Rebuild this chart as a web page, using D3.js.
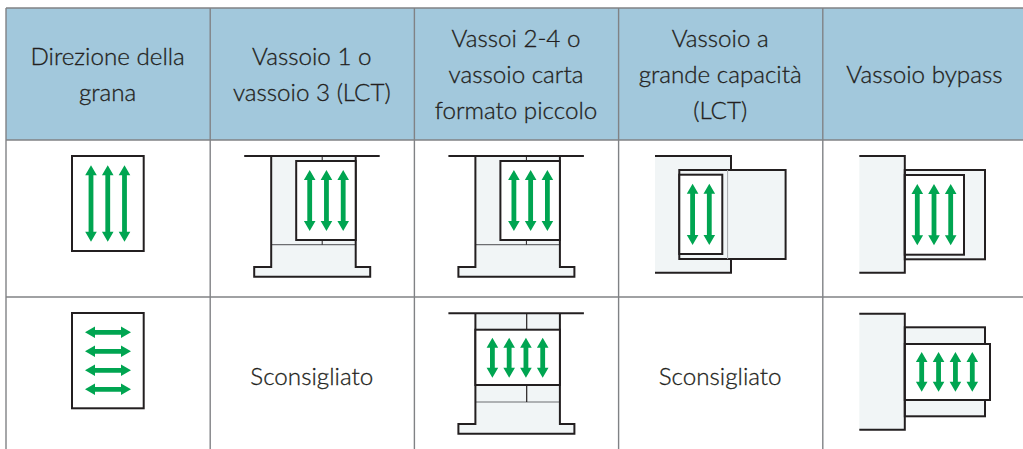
<!DOCTYPE html>
<html>
<head>
<meta charset="utf-8">
<style>
  html, body { margin: 0; padding: 0; background: #fff; overflow: hidden; }
  text { font-family: Lato, sans-serif; font-size: 24.2px; font-weight: 300; fill: #231f20; stroke: #231f20; stroke-width: 0.3px; text-anchor: middle; }
</style>
<script src="https://cdn.jsdelivr.net/npm/d3@7"></script>
</head>
<body>
<div id="table"></div>
<script>
// grain direction table

var headers = [
    ["Direzione della", "grana"],
    ["Vassoio 1 o", "vassoio 3 (LCT)"],
    ["Vassoi 2-4 o", "vassoio carta", "formato piccolo"],
    ["Vassoio a", "grande capacità", "(LCT)"],
    ["Vassoio bypass"]
];

// what goes in each cell of the two rows
var longGrainCells = ["sheet", "cassette", "cassette", "lct", "bypass"];
var shortGrainCells = ["sheetWide", "Sconsigliato", "cassetteWide", "Sconsigliato", "bypassWide"];

var rowCells = [longGrainCells, shortGrainCells];

var width = 1023,
    height = 449,
    ink = "#231f20",
    rule = "#808285",
    tint = "#f1f5f6",
    green = "#00a551";

var svg = d3.select("#table").append("svg")
    .attr("width", width)
    .attr("height", height)
    .style("display", "block");

// Column and row edges
var x = d3.scaleLinear().domain([0, 5]).range([6, 1027]);
var y = d3.scaleOrdinal().domain([0, 1, 2, 3]).range([8, 140, 297, 460]);

svg.append("rect")
    .attr("x", x(0))
    .attr("y", y(0))
    .attr("width", x(5) - x(0))
    .attr("height", y(1) - y(0))
    .attr("fill", "#a2c8dc");

svg.selectAll("line.col")
    .data(d3.range(0, 6))
    .enter().append("line")
    .attr("class", "col")
    .attr("x1", function(d) { return x(d); })
    .attr("x2", function(d) { return x(d); })
    .attr("y1", y(0))
    .attr("y2", y(3))
    .attr("stroke", rule)
    .attr("stroke-width", 1.4);

svg.selectAll("line.row")
    .data([0, 1, 2])
    .enter().append("line")
    .attr("class", "row")
    .attr("x1", x(0))
    .attr("x2", x(5))
    .attr("y1", function(d) { return y(d); })
    .attr("y2", function(d) { return y(d); })
    .attr("stroke", rule)
    .attr("stroke-width", 1.6);

// Header text
var baseline = {1: [83], 2: [65, 101], 3: [47, 83, 119]};

headers.forEach(function(lines, c) {
    svg.selectAll("text.h" + c)
        .data(lines)
        .enter().append("text")
        .attr("class", "h" + c)
        .attr("x", (x(c) + x(c + 1)) / 2 - 0.5)
        .attr("y", function(d, i) { return baseline[lines.length][i]; })
        .text(function(d) { return d; });
});

// Helpers for the little tray drawings
function box(g, x0, y0, x1, y1, fill, stroke) {
    g.append("rect")
        .attr("x", x0)
        .attr("y", y0)
        .attr("width", x1 - x0)
        .attr("height", y1 - y0)
        .attr("fill", fill)
        .attr("stroke", stroke || "none")
        .attr("stroke-width", 2);
}

function polyline(g, points, color, w) {
    g.append("path")
        .attr("d", d3.line()(points))
        .attr("fill", "none")
        .attr("stroke", color || ink)
        .attr("stroke-width", w || 2);
}

function arrow(g, x0, y0, x1, y1) {
    var horizontal = y0 === y1,
        len = horizontal ? x1 - x0 : y1 - y0,
        s = 2.4, h = 5.8, t = 10;
    var shape = [[0, 0], [h, t], [s, t], [s, len - t], [h, len - t], [0, len],
        [-h, len - t], [-s, len - t], [-s, t], [-h, t]];
    g.append("polygon")
        .attr("fill", green)
        .attr("points", shape.map(function(p) {
            return horizontal ? [x0 + p[1], y0 + p[0]].join(",") : [x0 + p[0], y0 + p[1]].join(",");
        }).join(" "));
}

// n upright arrows spread between x0 and x1
function upright(g, n, x0, x1, y0, y1) {
    var pos = d3.scaleLinear().domain([0, n - 1]).range([x0, x1]);
    d3.range(n).forEach(function(i) { arrow(g, pos(i), y0, pos(i), y1); });
}

function cassetteBase(g, top, lineY) {
    box(g, 61, top, 145.5, 132, tint);
    box(g, 44, 127, 160, 136.7, tint);
    polyline(g, [[61, lineY], [145.5, lineY]], "#6d6e71", 1.2);
    polyline(g, [[61, top], [61, 127], [44, 127], [44, 136.7], [160, 136.7], [160, 127], [145.5, 127], [145.5, top]]);
    polyline(g, [[34, top], [169.5, top]]);
}

var drawings = {
    sheet: function(g) {
        box(g, 66, 16, 137.7, 111, "#fff", ink);
        upright(g, 3, 85, 118.5, 25.3, 101.7);
    },
    sheetWide: function(g) {
        box(g, 66, 16, 137.7, 111.3, "#fff", ink);
        var pos = d3.scaleLinear().domain([0, 3]).range([35.3, 92.3]);
        d3.range(4).forEach(function(i) { arrow(g, 79, pos(i), 125, pos(i)); });
    },
    cassette: function(g) {
        cassetteBase(g, 16, 104.7);
        polyline(g, [[112, 16], [112, 21]], ink, 1);
        polyline(g, [[112, 100], [112, 104.7]], ink, 1);
        box(g, 86, 21, 145.5, 100, "#fff", ink);
        upright(g, 3, 99.5, 133, 30, 91);
    },
    cassetteWide: function(g) {
        cassetteBase(g, 16.3, 105);
        polyline(g, [[112.3, 16.3], [112.3, 32.7]], ink, 1.2);
        polyline(g, [[112.3, 88], [112.3, 105]], ink, 1.2);
        box(g, 61, 32.7, 145.5, 88, "#fff", ink);
        upright(g, 4, 78, 128.3, 40.7, 80.7);
    },
    lct: function(g) {
        box(g, 36.4, 16, 112.4, 132.7, tint);
        polyline(g, [[36.4, 16], [112.4, 16], [112.4, 30]]);
        polyline(g, [[36.4, 132.7], [112.4, 132.7], [112.4, 119]]);
        box(g, 60.7, 30, 167, 119, tint, ink);
        polyline(g, [[109, 30], [109, 119]], "#a7a9ac", 1);
        box(g, 60.7, 34.7, 103.7, 114, "#fff", ink);
        upright(g, 2, 74, 90.7, 43.7, 105);
    },
    bypass: function(g) {
        box(g, 36.5, 16, 82, 132.7, tint);
        box(g, 82, 30, 162.2, 119.3, tint, ink);
        box(g, 82, 35, 141.2, 114.7, "#fff", ink);
        polyline(g, [[36.5, 16], [82, 16], [82, 132.7], [36.5, 132.7]]);
        upright(g, 3, 94.5, 127.9, 44, 105.3);
    },
    bypassWide: function(g) {
        box(g, 36.5, 16.7, 82, 132.7, tint);
        box(g, 82, 30.3, 162.2, 119.3, tint, ink);
        box(g, 82, 47, 167.2, 103, "#fff", ink);
        polyline(g, [[36.5, 16.7], [82, 16.7], [82, 132.7], [36.5, 132.7]]);
        upright(g, 4, 98.9, 149.5, 55, 94.7);
    }
};

// Body rows
rowCells.forEach(function(cells, r) {
    cells.forEach(function(kind, c) {
        if (drawings[kind]) {
            var g = svg.append("g")
                .attr("transform", "translate(" + x(c) + "," + y(r + 1) + ")");
            drawings[kind](g);
        } else {
            svg.append("text")
                .attr("x", (x(c) + x(c + 1)) / 2 - 0.5)
                .attr("y", 385)
                .text(kind);
        }
    });
});
</script>
</body>
</html>
